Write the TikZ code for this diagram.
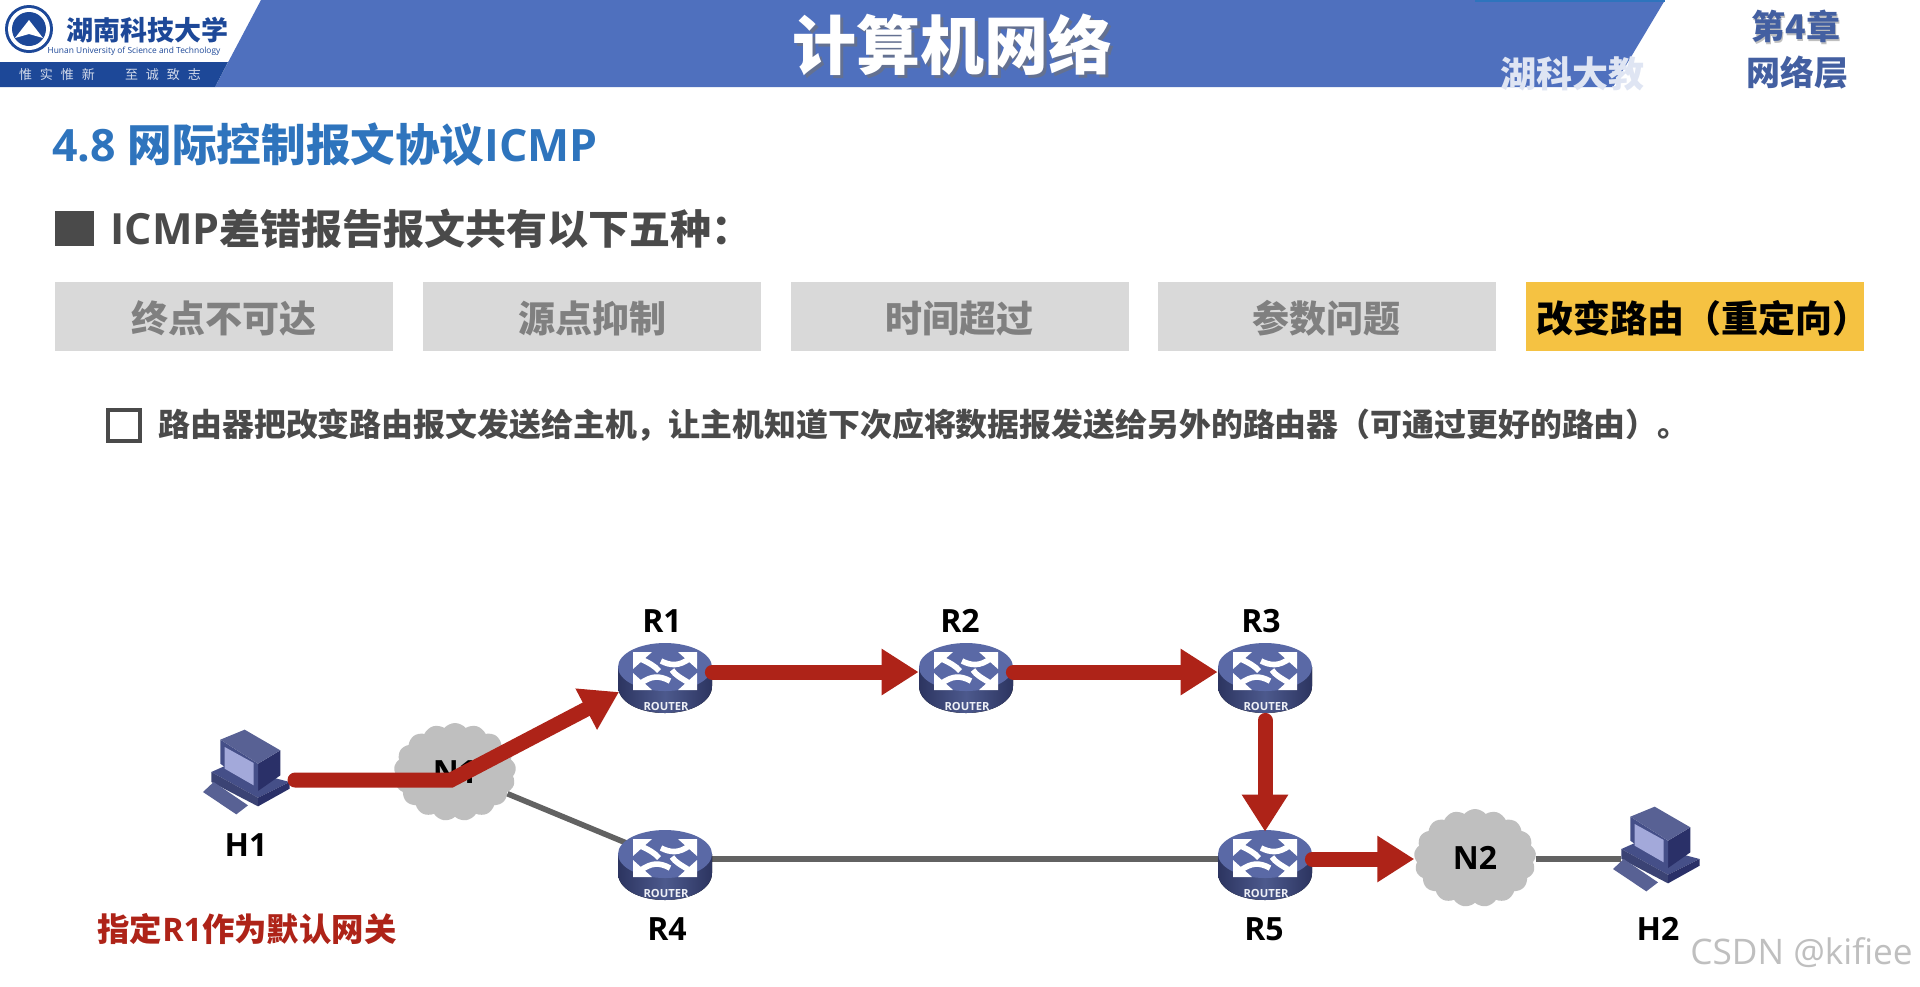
\documentclass[tikz,border=0pt]{standalone}
\usepackage{fontspec}
\usetikzlibrary{arrows.meta,shapes.geometric,shapes.symbols,calc}
\setmainfont{Open Sans}
\newfontfamily\cjk{Noto Sans CJK SC}
\definecolor{hblue}{HTML}{4F70BE}
\definecolor{hnavy}{HTML}{1D4898}
\definecolor{ttlblue}{HTML}{2E74BD}
\definecolor{txtgray}{HTML}{4A4A4A}
\definecolor{boxgray}{HTML}{D9D9D9}
\definecolor{boxtxt}{HTML}{808080}
\definecolor{gold}{HTML}{F5C242}
\definecolor{arrred}{HTML}{AE2318}
\definecolor{linegray}{HTML}{626262}
\definecolor{cloudgray}{HTML}{BFBFBF}
\definecolor{rtop}{HTML}{5A69A6}
\definecolor{rside}{HTML}{3B4680}
\definecolor{hostA}{HTML}{454F88}
\definecolor{hostB}{HTML}{2A3068}
\definecolor{hostC}{HTML}{A3A9DA}
\tikzset{
  tbox/.style={draw=none,fill=boxgray,minimum width=169pt,minimum height=34.5pt,inner sep=0pt,text=boxtxt,text height=18pt,text depth=2pt,font=\fontsize{18.5}{20}\selectfont\cjk\bfseries},
  netlabel/.style={inner sep=0pt,text=black,font=\fontsize{16}{18}\selectfont\bfseries},
  rnode/.style={ellipse,minimum width=47pt,minimum height=27pt,inner sep=0pt},
  hnode/.style={rectangle,minimum width=36pt,minimum height=30pt,inner sep=0pt},
  cloudnode/.style={cloud,cloud puffs=17,cloud puff arc=100,aspect=1.25,fill=cloudgray,inner sep=0pt,minimum width=61pt,minimum height=49pt,text=black,font=\fontsize{16}{18}\selectfont\bfseries},
  redarrow/.style={line width=7.5pt,color=arrred,line cap=round,line join=miter,-{Triangle[length=18.5pt,width=22pt]}},
  grayline/.style={line width=2.8pt,color=linegray},
  routerpic/.pic={
    \fill[left color=rside!75!black,right color=rside!75!black,middle color=rtop!85!black]
      (-47,-11) -- (-47,8) .. controls (-47,24) and (-26,35) .. (0,35) .. controls (26,35) and (47,24) .. (47,8) -- (47,-11) -- cycle;
    \fill[rtop] (0,-11) ellipse [x radius=47,y radius=24];
    \begin{scope}[white]
      \fill (-32,-26) -- (-13,-26) -- (-32,-9) -- cycle;
      \fill (32,-26) -- (13,-26) -- (32,-9) -- cycle;
      \fill (-32,12) -- (-13,12) -- (-32,-5) -- cycle;
      \fill (32,12) -- (13,12) -- (32,-5) -- cycle;
      \draw[line width=2.8pt] (-24,-19) .. controls (-16,-15) and (-10,-12) .. (-6,-7);
      \draw[line width=2.8pt] (24,-19) .. controls (14,-12) and (6,-12) .. (-4,-17);
      \draw[line width=2.8pt] (-24,5) .. controls (-14,-2) and (-6,-3) .. (5,3);
      \draw[line width=2.8pt] (24,5) .. controls (16,0) and (10,-3) .. (7,-8);
    \end{scope}
    \node[inner sep=0pt,text=white!90!rtop,font=\fontsize{5.6}{6}\selectfont\bfseries] (-txt) at (1,28) {ROUTER};
  },
  hostpic/.pic={
    \begin{scope}[x=0.1667pt,y=-0.1667pt,shift={(-172,-155)}]
      \fill[hostA] (65,155) -- (110,135) -- (300,185) -- (205,232) -- cycle;
      \fill[hostA!85!black] (65,155) -- (205,232) -- (205,258) -- (65,185) -- cycle;
      \fill[hostB] (205,232) -- (300,185) -- (300,205) -- (205,258) -- cycle;
      \fill[hostA!90!white] (40,215) -- (72,185) -- (175,255) -- (140,282) -- cycle;
      \fill[hostB] (205,130) -- (272,90) -- (272,165) -- (205,212) -- cycle;
      \fill[hostA] (92,58) -- (205,130) -- (205,212) -- (92,130) -- cycle;
      \fill[hostC] (105,80) -- (192,128) -- (192,195) -- (105,145) -- cycle;
      \fill[hostA!90!white] (92,58) -- (165,28) -- (272,90) -- (205,130) -- cycle;
    \end{scope}
  }
}
\begin{document}
\begin{tikzpicture}[x=0.5pt,y=-0.5pt]
\useasboundingbox (0,0) rectangle (1920,986);
\fill[white] (0,0) rectangle (1920,986);
% header
\fill[hblue] (261,0) -- (1665,0) -- (1613,87) -- (215,87) -- cycle;
\fill[ttlblue] (1475,0) rectangle (1665,2);
\fill[hnavy] (0,62) -- (228,62) -- (215,87) -- (0,87) -- cycle;
\fill[hnavy] (29,29) circle [radius=24];
\fill[white] (29,29) circle [radius=21];
\fill[hnavy] (29,29) circle [radius=17];
\fill[white] (15,38) -- (29,20) -- (43,38) -- (29,34) -- cycle;
\node[inner sep=0pt,text=hnavy,font=\fontsize{13.5}{15}\selectfont\cjk\bfseries] (school) at (147,30) {湖南科技大学};
\node[inner sep=0pt,text=hnavy,font=\fontsize{4.2}{5}\selectfont] (schoolen) at (134,51) {Hunan University of Science and Technology};
\node[inner sep=0pt,text=white!80!hnavy,font=\fontsize{6.5}{7}\selectfont\cjk] (motto1) at (57,75) {惟\hspace{4pt}实\hspace{4pt}惟\hspace{4pt}新};
\node[inner sep=0pt,text=white!80!hnavy,font=\fontsize{6.5}{7}\selectfont\cjk] (motto2) at (163,75) {至\hspace{4pt}诚\hspace{4pt}致\hspace{4pt}志};
\node[inner sep=0pt,text=black!55,opacity=.6,font=\fontsize{32}{34}\selectfont\cjk\bfseries] (ttlsh) at (955,48) {计算机网络};
\node[inner sep=0pt,text=white,font=\fontsize{32}{34}\selectfont\cjk\bfseries] (ttl) at (952,45) {计算机网络};
\node[inner sep=0pt,anchor=west,text=white!82!hblue,font=\fontsize{18}{20}\selectfont\cjk\bfseries] (wm) at (1500,74) {湖科大教};
\node[inner sep=0pt,text=black!25,font=\fontsize{17}{18}\selectfont\cjk\bfseries] (ch4sh) at (1797,28) {第4章};
\node[inner sep=0pt,text=hblue!85!black,font=\fontsize{17}{18}\selectfont\cjk\bfseries] (ch4) at (1796,26) {第4章};
\node[inner sep=0pt,text=hblue!85!black,font=\fontsize{17}{18}\selectfont\cjk\bfseries] (ch4b) at (1797,73) {网络层};
% headings
\node[inner sep=0pt,anchor=west,text=ttlblue,font=\fontsize{22.3}{24}\selectfont\bfseries] (sec) at (52,145) {4.8 {\cjk 网际控制报文协议}ICMP};
\fill[txtgray] (55,211) rectangle (94,246);
\node[inner sep=0pt,anchor=west,text=txtgray,font=\fontsize{20.5}{24}\selectfont\bfseries] (lead) at (110,229) {{\fontsize{21.5}{24}\selectfont ICMP}{\cjk 差错报告报文共有以下五种：}};
\node[tbox] (b1) at (224,316.5) {终点不可达};
\node[tbox] (b2) at (592,316.5) {源点抑制};
\node[tbox] (b3) at (959.5,316.5) {时间超过};
\node[tbox] (b4) at (1326.5,316.5) {参数问题};
\node[tbox,fill=gold,text=black] (b5) at (1694.5,316.5) {\makebox[0pt]{\hspace*{8.6pt}改变路由（重定向）}};
\draw[txtgray,line width=1.6pt] (108,410) rectangle (140,441);
\node[inner sep=0pt,anchor=west,text=txtgray,font=\fontsize{15.95}{18}\selectfont\cjk\bfseries] (body) at (158,425) {路由器把改变路由报文发送给主机，让主机知道下次应将数据报发送给另外的路由器（可通过更好的路由）。};
% network nodes
\node[cloudnode] (N1) at (455,772) {N1};
\node[cloudnode] (N2) at (1475,858) {N2};
\node[rnode] (R1) at (665,672) {};
\node[rnode] (R2) at (966,672) {};
\node[rnode] (R3) at (1265,672) {};
\node[rnode] (R4) at (665,859) {};
\node[rnode] (R5) at (1265,859) {};
\node[hnode] (H1) at (247,772) {};
\node[hnode] (H2) at (1657,849) {};
% gray links
\draw[grayline] (N1) -- (R4);
\draw[grayline] (R4) -- (R5);
\draw[grayline] (R5 -| N2.east) -- (R5 -| H2.west);
% icons
\pic (R1art) at (665,678) {routerpic};
\pic (R2art) at (966,678) {routerpic};
\pic (R3art) at (1265,678) {routerpic};
\pic (R4art) at (665,865) {routerpic};
\pic (R5art) at (1265,865) {routerpic};
\pic (H1art) at (247,772) {hostpic};
\pic (H2art) at (1657,849) {hostpic};
% red arrows
\coordinate (H1out) at (295,780);
\coordinate (N1bend) at (451,780);
\coordinate (R1in) at (619,692);
\draw[redarrow] (H1out) -- (N1bend) -- (R1in);
\draw[redarrow] (R1.east) -- (R2.west);
\draw[redarrow] (R2.east) -- (R3.west);
\draw[redarrow] ([yshift=-10.5pt]R3.south) -- (R5.north);
\draw[redarrow] (R5.east) -- (R5.east -| N2.west);
% labels
\node[netlabel] (lR1) at (662,621) {R1};
\node[netlabel] (lR2) at (960,621) {R2};
\node[netlabel] (lR3) at (1261,621) {R3};
\node[netlabel] (lR4) at (667,929) {R4};
\node[netlabel] (lR5) at (1264,929) {R5};
\node[netlabel] (lH1) at (246,845) {H1};
\node[netlabel] (lH2) at (1658,929) {H2};
\node[inner sep=0pt,text=arrred,font=\fontsize{16.2}{18}\selectfont\bfseries] (gw) at (247,929) {{\cjk 指定}R1{\cjk 作为默认网关}};
\node[inner sep=0pt,anchor=west,text=black!25,font=\fontsize{17.6}{18}\selectfont] (csdn) at (1690,953) {CSDN @kifiee};
\end{tikzpicture}
\end{document}
